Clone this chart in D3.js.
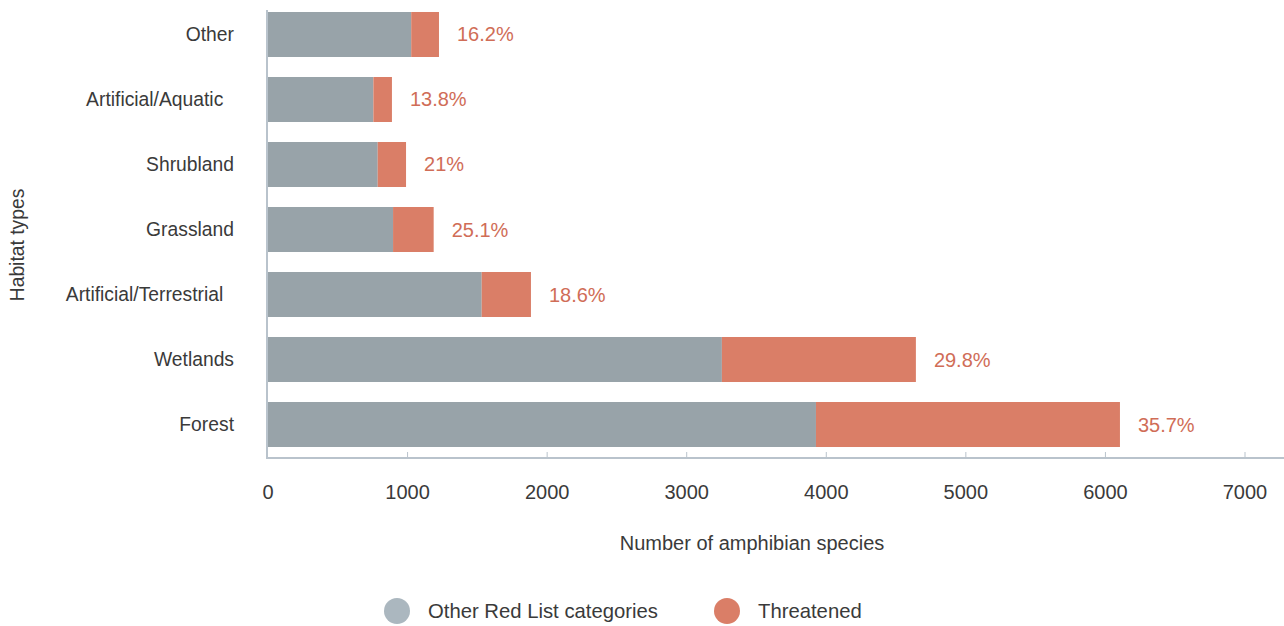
<!DOCTYPE html>
<html><head><meta charset="utf-8">
<script src="https://cdn.jsdelivr.net/npm/d3@7"></script>
<style>
body{margin:0;background:#fff;}
svg text{font-family:"Liberation Sans",Arial,sans-serif;}
</style></head>
<body><svg id="chart" width="1284" height="626"></svg>
<script>
const categories = ["Other","Artificial/Aquatic\u00a0\u00a0","Shrubland","Grassland","Artificial/Terrestrial\u00a0\u00a0","Wetlands","Forest"];
const otherCategories = [1026, 755, 786, 896, 1531, 3252, 3926];
const threatened = [199, 133, 203, 291, 353, 1390, 2178];
const pctLabels = ["16.2%","13.8%","21%","25.1%","18.6%","29.8%","35.7%"];
const xTicks = [0,1000,2000,3000,4000,5000,6000,7000];
const seriesNames = ["Other Red List categories","Threatened"];

const svg = d3.select("#chart");
const x = d3.scaleLinear().domain([0,7000]).range([268,1245]);
const y = d3.scaleBand().domain(categories).range([2,457]).paddingInner(0.3077).paddingOuter(0.1538);
const greyC = "#98a3a9", orangeC = "#da7e67", axisC = "#b9c3cc", textC = "#3a3a3a";

const rows = categories.map((c,i)=>({c, o:otherCategories[i], t:threatened[i], p:pctLabels[i]}));
svg.selectAll("rect.o").data(rows).join("rect").attr("class","o")
  .attr("x", x(0)).attr("y", d=>y(d.c)).attr("height", y.bandwidth())
  .attr("width", d=>x(d.o)-x(0)).attr("fill", greyC);
svg.selectAll("rect.t").data(rows).join("rect").attr("class","t")
  .attr("x", d=>x(d.o)).attr("y", d=>y(d.c)).attr("height", y.bandwidth())
  .attr("width", d=>x(d.o+d.t)-x(d.o)).attr("fill", orangeC);
svg.selectAll("text.p").data(rows).join("text").attr("class","p")
  .attr("x", d=>x(d.o+d.t)+18).attr("y", d=>y(d.c)+y.bandwidth()/2).attr("dy","0.35em")
  .attr("fill","#d06d57").attr("font-size",20).text(d=>d.p);

svg.selectAll("text.cat").data(rows).join("text").attr("class","cat")
  .attr("x", 234).attr("y", d=>y(d.c)+y.bandwidth()/2).attr("dy","0.35em")
  .attr("text-anchor","end").attr("fill",textC).attr("font-size",19.3)
  .style("white-space","pre").text(d=>d.c);

svg.append("line").attr("x1",267).attr("x2",267).attr("y1",10).attr("y2",459)
  .attr("stroke",axisC).attr("stroke-width",2);
svg.append("line").attr("x1",266).attr("x2",1284).attr("y1",458).attr("y2",458)
  .attr("stroke",axisC).attr("stroke-width",2);
svg.selectAll("line.tick").data(xTicks.filter(v=>v>0)).join("line").attr("class","tick")
  .attr("x1",d=>x(d)).attr("x2",d=>x(d)).attr("y1",452).attr("y2",458)
  .attr("stroke",axisC).attr("stroke-width",1);
svg.selectAll("text.xt").data(xTicks).join("text").attr("class","xt")
  .attr("x",d=>x(d)).attr("y",492).attr("dy","0.35em").attr("text-anchor","middle")
  .attr("fill",textC).attr("font-size",20).text(d=>d);

svg.append("text").attr("x",752).attr("y",543).attr("dy","0.35em").attr("text-anchor","middle")
  .attr("fill",textC).attr("font-size",20).text("Number of amphibian species");
svg.append("text").attr("transform","translate(17,245) rotate(-90)").attr("dy","0.35em")
  .attr("text-anchor","middle").attr("fill",textC).attr("font-size",19.3).text("Habitat types");

const legX = [397, 727];
const legCol = ["#abb7bf", orangeC];
seriesNames.forEach((n,i)=>{
  svg.append("circle").attr("cx",legX[i]).attr("cy",611).attr("r",13).attr("fill",legCol[i]);
  svg.append("text").attr("x",legX[i]+31).attr("y",611).attr("dy","0.35em")
    .attr("fill",textC).attr("font-size",20.3).text(n);
});
</script></body></html>
